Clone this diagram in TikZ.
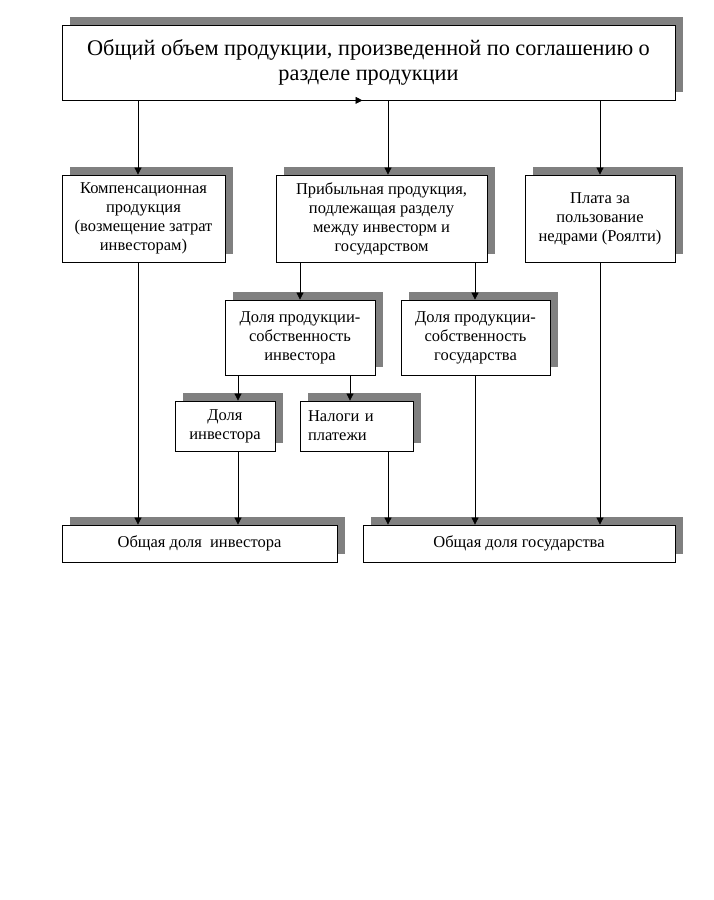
\documentclass[tikz,border=0pt]{standalone}
\usepackage{fontspec}
\setmainfont{Liberation Serif}
\usetikzlibrary{arrows.meta,shadows}

\begin{document}
\begin{tikzpicture}[x=1pt,y=-1pt,
		box/.style={draw, fill=white, line width=0.8pt, inner sep=2pt, align=center,
			font=\fontsize{16.5}{19}\selectfont,
			drop shadow={shadow xshift=8pt, shadow yshift=8pt, fill=gray, opacity=1}},
		arr/.style={-{Triangle[length=7pt,width=7pt]}, line width=0.7pt}]
	\useasboundingbox (0,0) rectangle (713,900);

	\node[box, minimum width=613pt, minimum height=75pt, font=\fontsize{22.3}{25}\selectfont] (total) at (368.5,62.5)
		{Общий объем продукции, произведенной по соглашению о\\разделе продукции};

	\node[box, minimum width=163pt, minimum height=87pt] (comp) at (143.5,218.5)
		{Компенсационная\\продукция\\(возмещение затрат\\инвесторам)};
	\node[box, minimum width=211pt, minimum height=87pt] (profit) at (381.5,218.5)
		{Прибыльная продукция,\\подлежащая разделу\\между инвесторм и\\государством};
	\node[box, minimum width=150pt, minimum height=87pt] (royal) at (600,218.5)
		{Плата за\\пользование\\недрами (Роялти)};

	\node[box, minimum width=150pt, minimum height=75pt] (invprod) at (300,337.5)
		{Доля продукции-\\собственность\\инвестора};
	\node[box, minimum width=149pt, minimum height=75pt] (stateprod) at (475.5,337.5)
		{Доля продукции-\\собственность\\государства};

	\node[box, minimum width=100pt, minimum height=50pt] (invshare) at (225,426)
		{Доля\\инвестора};
	\node[box, minimum width=113pt, minimum height=50pt, align=left, text width=97pt] (taxes) at (356.5,426)
		{Налоги и\\платежи};

	\node[box, minimum width=275pt, minimum height=37pt] (invtotal) at (199.5,543.5)
		{Общая доля\ \ инвестора};
	\node[box, minimum width=312pt, minimum height=37pt] (statetotal) at (519,543.5)
		{Общая доля государства};

	\draw[arr] ([xshift=-13pt]total.south) -- ([xshift=-6pt]total.south);

	\draw[arr] (total.south -| 138,0) -- (comp.north -| 138,0);
	\draw[arr] (total.south -| 388,0) -- (profit.north -| 388,0);
	\draw[arr] (total.south -| 600,0) -- (royal.north -| 600,0);

	\draw[arr] (profit.south -| 300,0) -- (invprod.north -| 300,0);
	\draw[arr] (profit.south -| 475,0) -- (stateprod.north -| 475,0);

	\draw[arr] (invprod.south -| 238,0) -- (invshare.north -| 238,0);
	\draw[arr] (invprod.south -| 350,0) -- (taxes.north -| 350,0);

	\draw[arr] (comp.south -| 138,0) -- (invtotal.north -| 138,0);
	\draw[arr] (invshare.south -| 238,0) -- (invtotal.north -| 238,0);
	\draw[arr] (taxes.south -| 388,0) -- (statetotal.north -| 388,0);
	\draw[arr] (stateprod.south -| 475,0) -- (statetotal.north -| 475,0);
	\draw[arr] (royal.south -| 600,0) -- (statetotal.north -| 600,0);
\end{tikzpicture}
\end{document}
